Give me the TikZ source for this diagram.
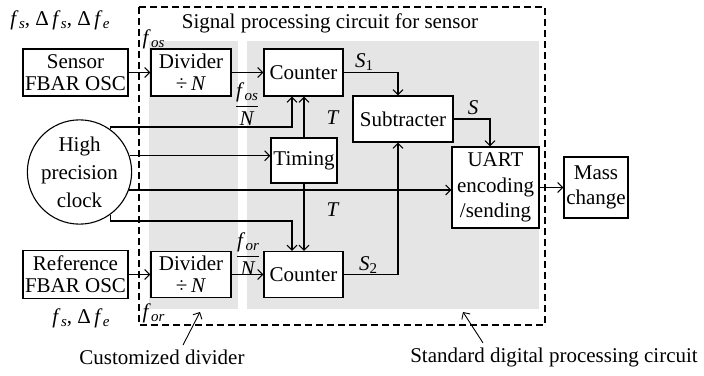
\documentclass[tikz,border=0pt]{standalone}
\usepackage{fontspec}
\setmainfont{Liberation Serif}
\usetikzlibrary{arrows.meta}
\definecolor{bggray}{gray}{0.9}
\newcommand\fsb[2]{\textit{#1}\kern0.3pt\raisebox{-0.35ex}{\fontsize{15}{15}\selectfont\textit{#2}}}
\newcommand\ssb[1]{\textit{S}\raisebox{-0.35ex}{\fontsize{15}{15}\selectfont #1}}
\begin{document}
\begin{tikzpicture}[x=1pt,y=-1pt,line width=1.1pt,
  >={Straight Barb[length=5pt,width=10pt]},
  every node/.style={font=\fontsize{21}{22}\selectfont,inner sep=0pt},
  blk/.style={draw,fill=white,align=center,line width=1.1pt}]
\useasboundingbox (0,0) rectangle (704,375);
\fill[bggray] (149,41) rectangle (238,309);
\fill[bggray] (247,41) rectangle (539,309);
\draw[dash pattern=on 7pt off 4pt] (139,7) rectangle (545,325);
% blocks
\node[blk,minimum width=105,minimum height=47] (sensor) at (75.5,72.5) {Sensor\\FBAR OSC};
\node[blk,minimum width=105,minimum height=48] (ref) at (75.5,274.5) {Reference\\FBAR OSC};
\node[blk,minimum width=80,minimum height=47] (div1) at (191,72.5) {Divider\\÷\,\textit{N}};
\node[blk,minimum width=80,minimum height=46] (div2) at (191,274.5) {Divider\\÷\,\textit{N}};
\node[blk,minimum width=79,minimum height=47] (cnt1) at (303.5,72.5) {Counter};
\node[blk,minimum width=79,minimum height=46] (cnt2) at (303.5,274.5) {Counter};
\node[blk,minimum width=66,minimum height=45] (tim) at (304,160.5) {Timing};
\node[blk,minimum width=100,minimum height=46] (sub) at (403,119) {Subtracter};
\node[blk,minimum width=87,minimum height=81,font=\fontsize{21}{25.5}\selectfont] (uart) at (495.5,187.5) {UART\\encoding\\/sending};
\node[blk,minimum width=64,minimum height=61,font=\fontsize{21}{25}\selectfont] (mass) at (596,187.5) {Mass\\change};
\node[draw,fill=white,circle,minimum size=92,align=center,font=\fontsize{21}{28}\selectfont] (clk) at (79.5,172) {High\\precision\\clock};
% labels
\node (t1) at (60,20) {\fsb{f}{s}, Δ\,\fsb{f}{s}, Δ\,\fsb{f}{e}};
\node[anchor=west] (fos) at (142,39) {\fsb{f}{os}};
\node[anchor=west] (for) at (142,313) {\fsb{f}{or}};
\node (t2) at (81,318) {\fsb{f}{s}, Δ\,\fsb{f}{e}};
\node (title) at (330,23) {Signal processing circuit for sensor};
\node (fr1) at (247,104) {$\displaystyle\frac{\hbox{\fsb{f}{os}}}{\hbox{\textit{N}}}$};
\node (fr2) at (248,254) {$\displaystyle\frac{\hbox{\fsb{f}{or}}}{\hbox{\textit{N}}}$};
\node (T1) at (333,118) {\textit{T}};
\node (T2) at (333,210) {\textit{T}};
\node (s1) at (364,62) {\ssb{1}};
\node (s) at (473,108) {\textit{S}};
\node (s2) at (368,265) {\ssb{2}};
\node (cust) at (162,357) {Customized divider};
\node (std) at (554,357) {Standard digital processing circuit};
% connectors
\draw[->] (sensor.east) -- (sensor.east -| div1.west);
\draw[->] (ref.east) -- (ref.east -| div2.west);
\draw[->] (div1) -- (cnt1);
\draw[->] (div2) -- (cnt2);
\draw[->] (cnt1.east) -| ([xshift=-5]sub.north);
\draw[->] (cnt2.east) -| ([xshift=-5]sub.south);
\draw[->] (sub.east) -| ([xshift=-5.5]uart.north);
\draw[->] (uart) -- (mass);
\draw[->] (tim.north) -- (tim.north |- cnt1.south);
\draw[->] (tim.south) -- (tim.south |- cnt2.north);
\coordinate (ca) at (292,127);
\coordinate (cb) at (292,221);
\draw[->] (clk.54) |- (ca) -- (ca |- cnt1.south);
\draw[->] (clk.-54) |- (cb) -- (cb |- cnt2.north);
\draw[->] (clk.18) -- (clk.18 -| tim.west);
\draw[->] (clk.-20) -- (clk.-20 -| uart.west);
\coordinate (pa) at (200,312);
\coordinate (pb) at (463,312);
\draw[->,line width=0.9pt] ([xshift=21,yshift=4]cust.north) -- (pa);
\draw[->,line width=0.9pt] ([xshift=-71,yshift=4]std.north) -- (pb);
\end{tikzpicture}
\end{document}
